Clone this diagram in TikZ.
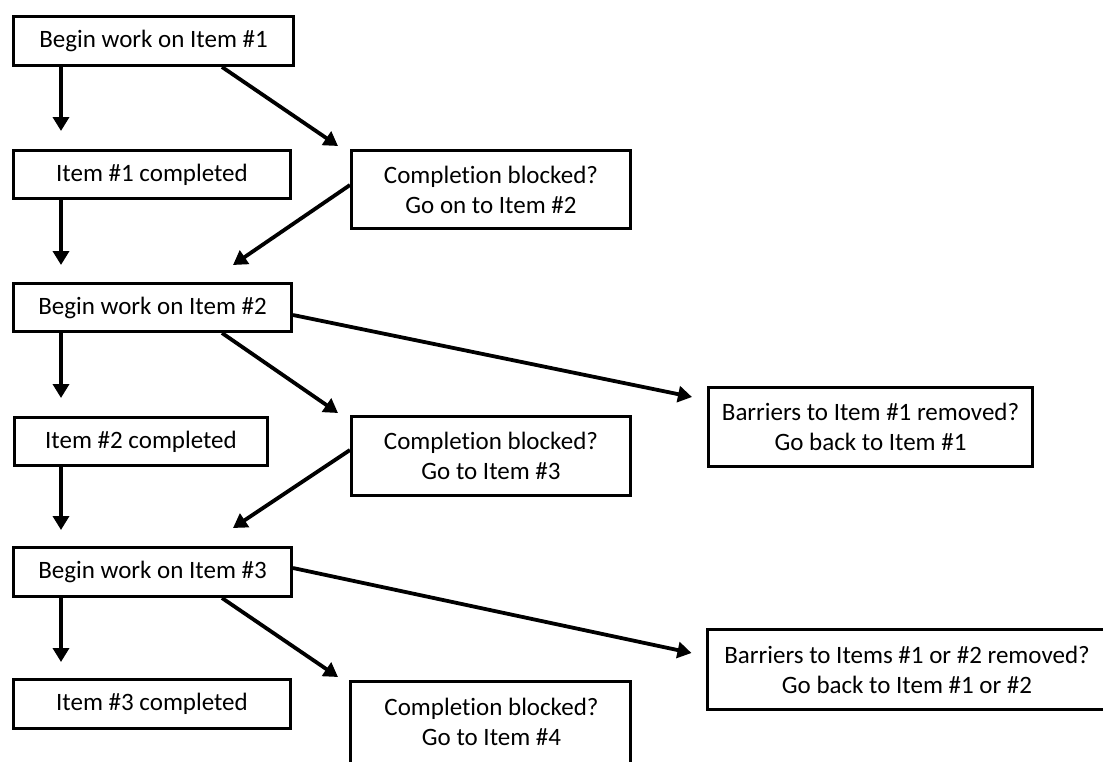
\documentclass[tikz,border=0pt]{standalone}
\usepackage{fontspec}
\setmainfont{Carlito}[RawFeature={-liga;-clig}]
\usetikzlibrary{arrows.meta}
\begin{document}
\begin{tikzpicture}[x=1pt,y=-1pt,
  box/.style={draw=black,line width=3pt,rectangle,inner sep=0pt,align=center,
    font=\fontsize{25}{30}\selectfont},
  arr/.style={line width=3.8pt,-{Triangle[length=14pt,width=16pt]}}]
\clip (0,0) rectangle (1103,761);
\fill[white] (0,0) rectangle (1103,761);
\node[box,minimum width=280pt,minimum height=49pt] (b1) at (153.5,41) {Begin work on Item \#1};
\node[box,minimum width=277pt,minimum height=48pt] (c1) at (152,174.5) {Item \#1 completed};
\node[box,minimum width=279pt,minimum height=78pt] (d1) at (491,189.5) {Completion blocked?\\Go on to Item \#2};
\node[box,minimum width=278pt,minimum height=48pt] (b2) at (152.5,307.5) {Begin work on Item \#2};
\node[box,minimum width=253pt,minimum height=48pt] (c2) at (141,441.5) {Item \#2 completed};
\node[box,minimum width=279pt,minimum height=79pt] (d2) at (491,456) {Completion blocked?\\Go to Item \#3};
\node[box,minimum width=324pt,minimum height=79pt] (r1) at (870.5,427) {Barriers to Item \#1 removed?\\Go back to Item \#1};
\node[box,minimum width=278pt,minimum height=49pt] (b3) at (152.5,572) {Begin work on Item \#3};
\node[box,minimum width=277pt,minimum height=49pt] (c3) at (152,704) {Item \#3 completed};
\node[box,draw=none,minimum width=280pt,minimum height=79pt] (d3) at (491.5,722) {Completion blocked?\\Go to Item \#4};
\draw[line width=3pt] (d3.north west) rectangle ++(280,100);
\node[box,minimum width=410pt,minimum height=80pt] (r2) at (912,669.5) {};
\node[font=\fontsize{25}{30}\selectfont,align=center,inner sep=0pt] (r2t) at (907,669.5) {Barriers to Items \#1 or \#2 removed?\\Go back to Item \#1 or \#2};
% arrows
\draw[arr] ([xshift=49pt]b1.south west) -- ([xshift=49pt,yshift=18pt]c1.north west);
\draw[arr] ([xshift=210pt]b1.south west) -- ([xshift=-12pt,yshift=3pt]d1.north west);
\draw[arr] ([yshift=4.5pt]d1.west) -- ([xshift=221pt,yshift=17pt]b2.north west);
\draw[arr] ([xshift=49pt]c1.south west) -- ([xshift=49pt,yshift=17pt]b2.north west);
\draw[arr] ([xshift=49pt]b2.south west) -- ([xshift=48pt,yshift=18pt]c2.north west);
\draw[arr] ([xshift=210pt]b2.south west) -- ([xshift=-12pt,yshift=2pt]d2.north west);
\draw[arr] ([yshift=-7.5pt]b2.east) -- ([xshift=-15pt,yshift=30pt]r1.west);
\draw[arr] ([yshift=6pt]d2.west) -- ([xshift=221pt,yshift=18pt]b3.north west);
\draw[arr] ([xshift=48pt]c2.south west) -- ([xshift=49pt,yshift=16pt]b3.north west);
\draw[arr] ([xshift=49pt]b3.south west) -- ([xshift=49pt,yshift=16pt]c3.north west);
\draw[arr] ([xshift=210pt]b3.south west) -- ([xshift=-12pt,yshift=4pt]d3.north west);
\draw[arr] ([yshift=4pt]b3.east) -- ([xshift=-14pt,yshift=16.5pt]r2.west);
\end{tikzpicture}
\end{document}
